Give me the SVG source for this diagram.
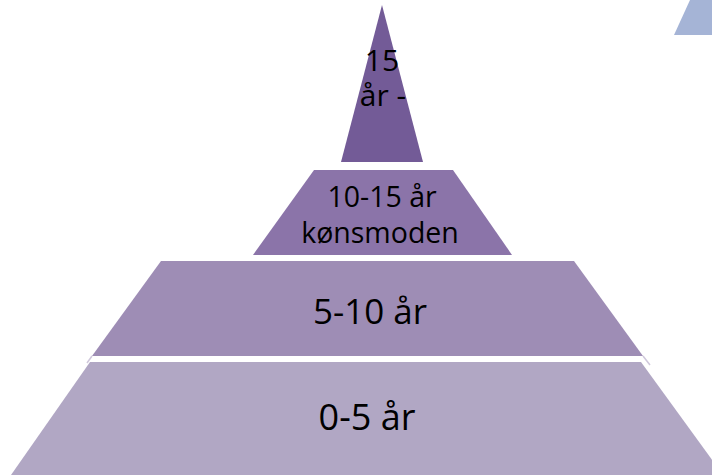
<svg xmlns="http://www.w3.org/2000/svg" width="712" height="475" viewBox="0 0 712 475">
<style>
text{font-family:"Open Sans","Noto Sans","DejaVu Sans",sans-serif;fill:#000;text-anchor:middle}
.edge{stroke:#cfc7db;stroke-width:1.5;fill:none}
</style>
<rect width="712" height="475" fill="#ffffff"/>
<g id="accent"><polygon points="690,0 712,0 712,35 674,35" fill="#a5b4d6"/></g>
<g id="layer4">
<polygon points="90,362 641,362 723,475 11,475" fill="#b1a7c4"/>
<text x="367" y="430" font-size="36">0-5 år</text>
</g>
<g id="layer3">
<polygon points="161,261 574,261 643,356 92,356" fill="#9e8db5"/>
<line class="edge" x1="92" y1="356" x2="87" y2="363"/>
<line class="edge" x1="643" y1="356" x2="650" y2="365"/>
<text x="370" y="324" font-size="35">5-10 år</text>
</g>
<g id="layer2">
<polygon points="314,170 453,170 512,255 253,255" fill="#8b74a9"/>
<text x="382" y="207" font-size="28.5">10-15 år</text>
<text x="380" y="243" font-size="28.5">kønsmoden</text>
</g>
<g id="layer1">
<polygon points="382,5 423,162 341,162" fill="#735b97"/>
<text x="382" y="71" font-size="30">15</text>
<text x="383" y="106" font-size="30">år -</text>
</g>
<g id="connectors"/>
</svg>
